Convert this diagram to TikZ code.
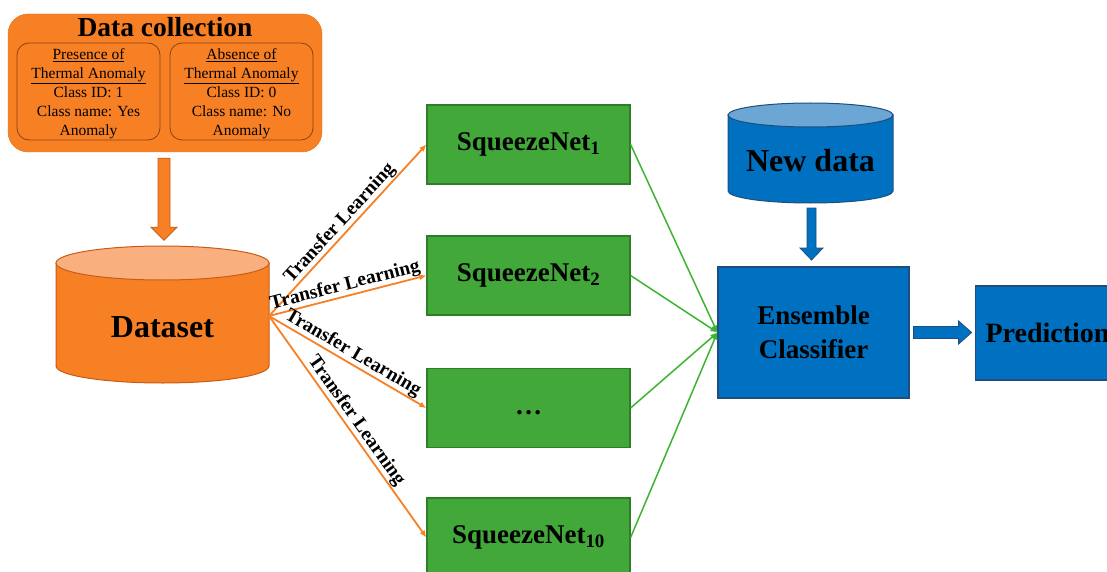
\documentclass[tikz,border=0pt]{standalone}
\usepackage{fontspec}
\setmainfont{Liberation Serif}
\usetikzlibrary{arrows.meta,calc}
\definecolor{orM}{RGB}{247,128,36}
\definecolor{orD}{RGB}{200,92,20}
\definecolor{orB}{RGB}{140,64,20}
\definecolor{orL}{RGB}{250,176,126}
\definecolor{grM}{RGB}{67,168,58}
\definecolor{grD}{RGB}{46,125,40}
\definecolor{grL}{RGB}{60,180,50}
\definecolor{blM}{RGB}{0,112,192}
\definecolor{blD}{RGB}{30,78,125}
\definecolor{blL}{RGB}{107,166,212}
\tikzset{
  x=1pt,y=1pt,
  netbox/.style={draw=grD,fill=grM,line width=1.2pt,minimum width=203pt,minimum height=79pt,inner sep=0pt,font=\fontsize{27}{32}\selectfont\bfseries},
  classbox/.style={draw=orB,fill=orM,line width=0.8pt,rounded corners=12pt,minimum width=143pt,minimum height=97pt,align=center,inner sep=0pt,font=\fontsize{15.5}{19}\selectfont},
  tlline/.style={draw=orM,line width=1.8pt,-{Latex[length=7pt,width=6pt]}},
  tllab/.style={sloped,above,inner sep=0.5pt,pos=0.5,font=\fontsize{19.5}{20}\selectfont\bfseries},
  grline/.style={draw=grL,line width=1.5pt,-{Latex[length=7pt,width=6pt]}},
  blockor/.style={draw=orD,fill=orM,line width=0.8pt},
  blockbl/.style={draw=blD,fill=blM,line width=0.8pt},
}
\begin{document}
\begin{tikzpicture}
\useasboundingbox (0,0) rectangle (1107,-572);
% Data collection
\node[draw=orM!90!black,fill=orM,rounded corners=20pt,minimum width=314pt,minimum height=138pt,inner sep=0pt] (dc) at (165,-83) {};
\node[font=\fontsize{27.5}{30}\selectfont\bfseries] (dctitle) at (165,-27) {Data collection};
\node[classbox] (pres) at (88.5,-91.5) {};
\node[classbox] (abs) at (241.5,-91.5) {};
\node[align=center,font=\fontsize{15.5}{19}\selectfont,inner sep=0pt] (prest) at (88.5,-94) {\underline{Presence of}\\\underline{Thermal Anomaly}\\Class ID: 1\\Class name: Yes\\Anomaly};
\node[align=center,font=\fontsize{15.5}{19}\selectfont,inner sep=0pt] (abst) at (241.5,-94) {\underline{Absence of}\\\underline{Thermal Anomaly}\\Class ID: 0\\Class name: No\\Anomaly};
% down block arrow
\draw[blockor] ($(dc.south)+(-7,-6)$) -- ++(12,0) -- ++(0,-69) -- ++(7,0) -- ++(-13,-13) -- ++(-13,13) -- ++(7,0) -- cycle;
% Dataset cylinder
\path[draw=orD,fill=orM,line width=1pt] (56,-263) -- (56,-366) arc[start angle=180,end angle=360,x radius=106.5pt,y radius=17pt] -- (269,-263) -- cycle;
\draw[draw=orD,fill=orL,line width=1pt] (162.5,-263) ellipse[x radius=106.5pt,y radius=17pt];
\node[font=\fontsize{32}{36}\selectfont\bfseries] (ds) at (162.5,-327) {Dataset};
\coordinate (dsR) at (269,-316);
% SqueezeNets
\node[netbox] (s1) at (528.5,-144.5) {SqueezeNet\textsubscript{1}};
\node[netbox] (s2) at (528.5,-275.5) {SqueezeNet\textsubscript{2}};
\node[netbox] (s3) at (528.5,-408) {\vphantom{SqueezeNet}…};
\node[netbox] (s4) at (528.5,-537.5) {SqueezeNet\textsubscript{10}};
\draw[tlline] (dsR) -- node[tllab] (l1) {Transfer Learning} (s1.west);
\draw[tlline] (dsR) -- node[tllab] (l2) {Transfer Learning} (s2.west);
\draw[tlline] (dsR) -- node[tllab] (l3) {Transfer Learning} (s3.west);
\draw[tlline] (dsR) -- node[tllab] (l4) {Transfer Learning} (s4.west);
% Ensemble
\node[draw=blD,fill=blM,line width=1.2pt,minimum width=191pt,minimum height=131pt,align=center,inner sep=0pt,font=\fontsize{27}{34}\selectfont\bfseries] (ens) at (813.5,-332.5) {Ensemble\\Classifier};
\draw[grline] (s1.east) -- (ens.west);
\draw[grline] (s2.east) -- (ens.west);
\draw[grline] (s3.east) -- (ens.west);
\draw[grline] (s4.east) -- (ens.west);
% New data cylinder
\path[draw=blD,fill=blM,line width=1pt] (728,-115) -- (728,-191) arc[start angle=180,end angle=360,x radius=82.5pt,y radius=12pt] -- (893,-115) -- cycle;
\draw[draw=blD,fill=blL,line width=1pt] (810.5,-115) ellipse[x radius=82.5pt,y radius=12pt];
\node[font=\fontsize{32}{36}\selectfont\bfseries] (nd) at (810.5,-161) {New data};
\coordinate (ndb) at (811.5,-203);
\draw[blockbl] ($(ndb)+(-4.5,-5)$) -- ++(9,0) -- ++(0,-40) -- ++(7,0) -- ++(-11.5,-12) -- ++(-11.5,12) -- ++(7,0) -- cycle;
% Prediction
\node[draw=blD,fill=blM,line width=1.2pt,anchor=west,minimum height=94pt,text width=140pt,inner xsep=10pt,inner ysep=0pt,align=left,font=\fontsize{28}{32}\selectfont\bfseries] (pred) at (975,-333) {Prediction};
\draw[blockbl] ($(ens.east)+(4,6)$) -- ++(45,0) -- ++(0,5.5) -- ++(13,-11.5) -- ++(-13,-11.5) -- ++(0,5.5) -- ++(-45,0) -- cycle;
\end{tikzpicture}
\end{document}
